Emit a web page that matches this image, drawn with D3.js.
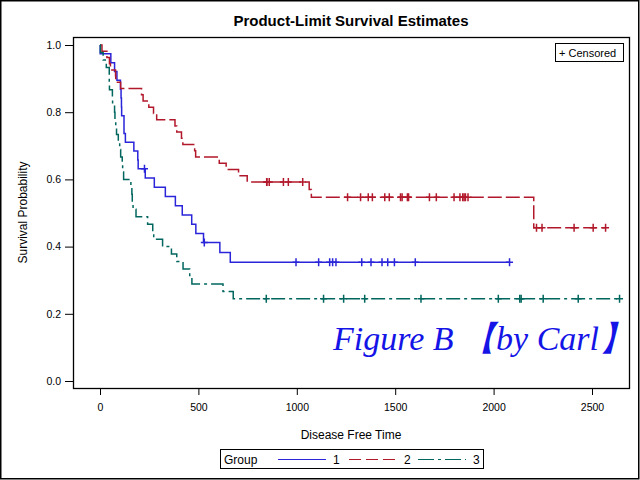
<!DOCTYPE html>
<html>
<head>
<meta charset="utf-8">
<script src="https://cdn.jsdelivr.net/npm/d3@7"></script>
<style>
  body { margin: 0; background: #fff; }
  text { font-family: "Liberation Sans", Arial, sans-serif; }
</style>
</head>
<body>
<div id="chart"></div>
<script>
// disease free time / status (1 = event, 0 = censored) for each group
var group1Time = [2081, 1602, 1496, 1462, 1433, 1377, 1330, 996, 226, 1199, 1111, 530, 1182, 1167,
                  418, 383, 276, 104, 609, 172, 487, 662, 194, 230, 526, 122, 129, 74, 122, 86,
                  466, 192, 109, 55, 1, 107, 110, 332];
var group1Status = [0,0,0,0,0,0,0,0,0,0,0,0,0,0,
                    1,1,1,1,1,1,1,1,1,1,1,1,1,1,1,1,1,1,1,1,1,1,1,1];

var group2Time = [2569, 2506, 2409, 2218, 1857, 1829, 1562, 1470, 1363, 1030, 860, 1258, 2246, 1870,
                  1799, 1709, 1674, 1568, 1527, 1324, 957, 932, 847, 848, 1850, 1843, 1535, 1447, 1384,
                  414, 2204, 1063, 481, 105, 641, 390, 288, 421, 79, 748, 486, 48, 272, 1074, 381,
                  10, 53, 80, 35, 248, 704, 211, 219, 606];
var group2Status = [0,0,0,0,0,0,0,0,0,0,0,0,0,0,0,0,0,0,0,0,0,0,0,0,0,0,0,0,0,
                    1,1,1,1,1,1,1,1,1,1,1,1,1,1,1,1,1,1,1,1,1,1,1,1,1];

var group3Time = [2640, 2430, 2252, 2140, 2133, 1238, 1631, 2024, 1345, 1136, 845,
                  422, 162, 84, 100, 2, 47, 242, 456, 268, 318, 32, 467, 47, 390, 183, 105, 115,
                  164, 93, 120, 80, 677, 64, 168, 74, 16, 157, 625, 48, 273, 63, 76, 113, 363];
var group3Status = [0,0,0,0,0,0,0,0,0,0,0,
                    1,1,1,1,1,1,1,1,1,1,1,1,1,1,1,1,1,1,1,1,1,1,1,1,1,1,1,1,1,1,1,1,1,1];

var groupNames = ["1", "2", "3"];
var xTicks = [0, 500, 1000, 1500, 2000, 2500];
var yTicks = [0, 0.2, 0.4, 0.6, 0.8, 1.0];

var colors = ["#2a25d9", "#b2182b", "#01665e"];
var dashes = [null, "14,4", "14,4,3,4"];

var W = 640, H = 480;

// product-limit estimate
function kaplanMeier(times, status) {
  var obs = times.map(function(t, i) { return {t: t, e: status[i]}; })
                 .sort(function(a, b) { return a.t - b.t; });
  var n = obs.length, s = 1;
  var steps = [{t: 0, s: 1}], cens = [];
  var uniq = Array.from(new Set(obs.map(function(o) { return o.t; })));
  uniq.forEach(function(t) {
    var at = obs.filter(function(o) { return o.t === t; });
    var d = at.filter(function(o) { return o.e === 1; }).length;
    if (d > 0) { s *= (1 - d / n); steps.push({t: t, s: s}); }
    at.filter(function(o) { return o.e === 0; }).forEach(function() { cens.push({t: t, s: s}); });
    n -= at.length;
  });
  steps.push({t: obs[obs.length - 1].t, s: s});
  return {steps: steps, cens: cens};
}

var groups = [
  kaplanMeier(group1Time, group1Status),
  kaplanMeier(group2Time, group2Status),
  kaplanMeier(group3Time, group3Status)
];

var svg = d3.select("#chart").append("svg")
  .attr("width", W).attr("height", H);

svg.append("rect")
  .attr("x", 0.75).attr("y", 0.75)
  .attr("width", W - 2).attr("height", H - 2)
  .attr("fill", "#fff").attr("stroke", "#000").attr("stroke-width", 1.5);

var frame = {left: 73, right: 629, top: 37, bottom: 388};

var x = d3.scaleLinear().domain([0, 2500]).range([100, 592]);
var y = d3.scaleLinear().domain([0, 1]).range([381, 45]);

// title
svg.append("text")
  .attr("x", (frame.left + frame.right) / 2).attr("y", 26)
  .attr("text-anchor", "middle")
  .style("font-size", "15px").style("font-weight", "bold")
  .text("Product-Limit Survival Estimates");

// axes
var yAxis = svg.append("g")
  .attr("transform", "translate(" + frame.left + ",0)")
  .call(d3.axisLeft(y).tickValues(yTicks).tickFormat(d3.format(".1f")).tickSize(8).tickPadding(4));
var xAxis = svg.append("g")
  .attr("transform", "translate(0," + frame.bottom + ")")
  .call(d3.axisBottom(x).tickValues(xTicks).tickFormat(d3.format("d")).tickSize(7).tickPadding(9));
[xAxis, yAxis].forEach(function(a) {
  a.select(".domain").remove();
  a.selectAll("text").style("font-size", "10.5px").attr("fill", "#000")
    .style("font-family", "'Liberation Sans', Arial, sans-serif");
  a.selectAll("line").attr("stroke", "#000");
});

svg.append("text")
  .attr("x", (frame.left + frame.right) / 2).attr("y", 439)
  .attr("text-anchor", "middle").style("font-size", "12px")
  .text("Disease Free Time");

svg.append("text")
  .attr("transform", "translate(27," + ((frame.top + frame.bottom) / 2) + ") rotate(-90)")
  .attr("text-anchor", "middle").style("font-size", "12px")
  .text("Survival Probability");

// plot frame
svg.append("rect")
  .attr("x", frame.left + 0.5).attr("y", frame.top + 0.5)
  .attr("width", frame.right - frame.left).attr("height", frame.bottom - frame.top)
  .attr("fill", "none").attr("stroke", "#000").attr("stroke-width", 1.3);

// curves
var line = d3.line()
  .x(function(d) { return x(d.t); })
  .y(function(d) { return y(d.s); })
  .curve(d3.curveStepAfter);

groups.forEach(function(g, i) {
  svg.append("path")
    .datum(g.steps)
    .attr("d", line)
    .attr("fill", "none")
    .attr("stroke", colors[i])
    .attr("stroke-width", 1.5)
    .attr("stroke-dasharray", dashes[i]);

  svg.append("g").selectAll("path")
    .data(g.cens)
    .enter().append("path")
    .attr("d", function(d) {
      var cx = x(d.t), cy = y(d.s);
      return "M" + (cx - 3.5) + "," + cy + "H" + (cx + 3.5) + "M" + cx + "," + (cy - 4) + "V" + (cy + 4);
    })
    .attr("stroke", colors[i])
    .attr("stroke-width", 1.5)
    .attr("fill", "none");
});

// censored legend
var cl = svg.append("g");
cl.append("rect")
  .attr("x", 555.5).attr("y", 43.5).attr("width", 68).attr("height", 18)
  .attr("fill", "#fff").attr("stroke", "#000");
cl.append("text")
  .attr("x", 559).attr("y", 57)
  .style("font-size", "11px")
  .text("+ Censored");

// group legend
var lg = svg.append("g");
lg.append("rect")
  .attr("x", 220.5).attr("y", 449.5).attr("width", 263).attr("height", 19)
  .attr("fill", "#fff").attr("stroke", "#000");
lg.append("text")
  .attr("x", 224).attr("y", 464)
  .style("font-size", "12px")
  .text("Group");
var legendX = [278, 349, 418];
groupNames.forEach(function(name, i) {
  lg.append("line")
    .attr("x1", legendX[i]).attr("x2", legendX[i] + 48)
    .attr("y1", 459.5).attr("y2", 459.5)
    .attr("stroke", colors[i]).attr("stroke-width", 1.2)
    .attr("stroke-dasharray", dashes[i] ? (i === 1 ? "12,5" : "16,4,3,4") : null);
  lg.append("text")
    .attr("x", legendX[i] + 55).attr("y", 464)
    .style("font-size", "12px")
    .text(name);
});

// annotation
svg.append("text")
  .attr("x", 333).attr("y", 350)
  .style("font-family", "'Liberation Serif', 'Times New Roman', serif")
  .style("font-style", "italic")
  .style("font-size", "34px")
  .attr("fill", "#1414e6")
  .text("Figure B \u3010by Carl\u3011");
</script>
</body>
</html>
